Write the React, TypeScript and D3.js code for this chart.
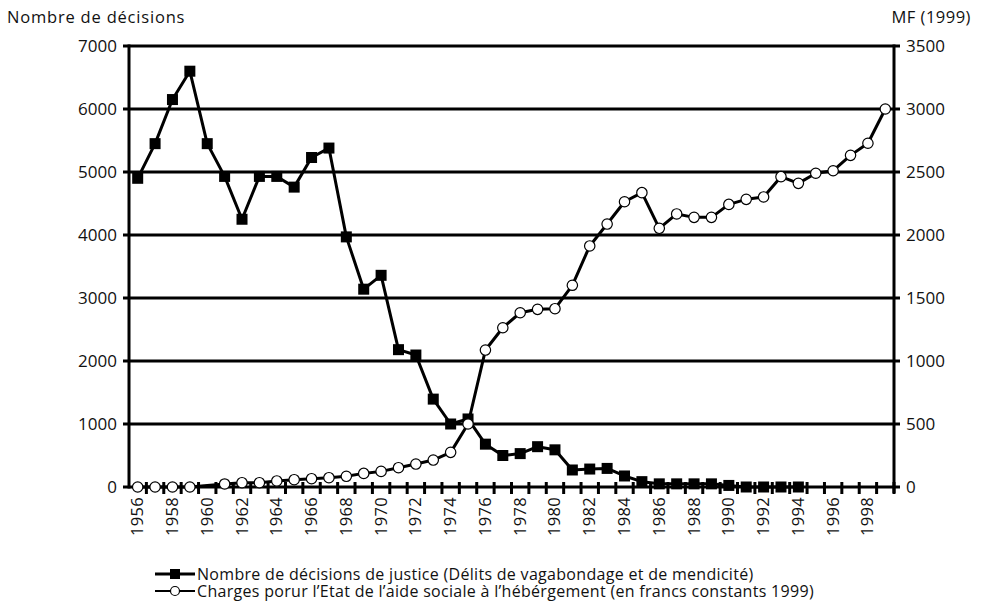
import React from "react";
import * as d3 from "d3";

const years: number[] = d3.range(1956, 2000);
const decisions: (number | null)[] = [
  4900, 5450, 6150, 6600, 5450, 4930, 4250, 4930, 4930, 4760,
  5230, 5380, 3970, 3140, 3360, 2180, 2095, 1395, 1000, 1080,
  680, 500, 530, 640, 590, 270, 285, 295, 175, 85,
  50, 50, 50, 50, 25, 0, 0, 0, 0, null,
  null, null, null, null,
];
const charges: (number | null)[] = [
  0, 0, 0, 0, null, 24, 34, 34, 48, 58,
  66, 74, 85, 108, 124, 153, 182, 214, 275, 500,
  1087, 1264, 1383, 1410, 1415, 1601, 1913, 2087, 2264, 2336,
  2053, 2167, 2140, 2140, 2243, 2283, 2302, 2463, 2410, 2490,
  2510, 2632, 2728, 3000,
];
const leftTicks = [0, 1000, 2000, 3000, 4000, 5000, 6000, 7000];
const rightTicks = [0, 500, 1000, 1500, 2000, 2500, 3000, 3500];
const leftTitle = "Nombre de décisions";
const rightTitle = "MF (1999)";
const legendLabels = [
  "Nombre de décisions de justice (Délits de vagabondage et de mendicité)",
  "Charges porur l’Etat de l’aide sociale à l’hébérgement (en francs constants 1999)",
];

const FONT = "'Open Sans', Lato, sans-serif";

export default function App() {
  const W = 982, H = 609;
  const left = 129, right = 894, top = 46, bottom = 487;
  const x = d3.scaleBand<number>().domain(years).range([left, right]).padding(0);
  const bw = x.bandwidth();
  const cx = (yr: number) => (x(yr) as number) + bw / 2;
  const yL = d3.scaleLinear().domain([0, 7000]).range([bottom, top]);
  const yR = d3.scaleLinear().domain([0, 3500]).range([bottom, top]);

  const decPts = years.map((yr, i) => ({ yr, v: decisions[i] })).filter((d) => d.v !== null) as { yr: number; v: number }[];
  const chPts = years.map((yr, i) => ({ yr, v: charges[i] })).filter((d) => d.v !== null) as { yr: number; v: number }[];

  const lineL = d3.line<{ yr: number; v: number }>().x((d) => cx(d.yr)).y((d) => yL(d.v));
  const lineR = d3.line<{ yr: number; v: number }>().x((d) => cx(d.yr)).y((d) => yR(d.v));

  const sq = 11;
  const boundaries = d3.range(1, years.length + 1).map((i) => left + i * bw);

  return (
    <svg width={W} height={H} style={{ position: "absolute", left: 0, top: 0, background: "#fff" }} fontFamily={FONT}>
      <rect x={0} y={0} width={W} height={H} fill="#fff" />
      {/* titles */}
      <text x={7} y={23} fontSize={16.5} letterSpacing={0.8} fill="#111">{leftTitle}</text>
      <text x={971} y={23} fontSize={16.5} letterSpacing={0.5} fill="#111" textAnchor="end">{rightTitle}</text>

      {/* gridlines */}
      {leftTicks.map((t) => (
        <line key={"g" + t} x1={left} x2={right} y1={yL(t)} y2={yL(t)} stroke="#000" strokeWidth={3} />
      ))}
      {/* axes */}
      <line x1={left} x2={left} y1={top - 1.5} y2={bottom + 1.5} stroke="#000" strokeWidth={3} />
      <line x1={right} x2={right} y1={top - 1.5} y2={bottom + 6} stroke="#000" strokeWidth={3} />
      {leftTicks.map((t) => (
        <g key={"l" + t}>
          <line x1={left - 6} x2={left} y1={yL(t)} y2={yL(t)} stroke="#000" strokeWidth={3} />
          <text x={117} y={yL(t)} dy="0.35em" fontSize={17} textAnchor="end" fill="#111">{t}</text>
        </g>
      ))}
      {rightTicks.map((t) => (
        <g key={"r" + t}>
          <line x1={right} x2={right + 6} y1={yR(t)} y2={yR(t)} stroke="#000" strokeWidth={3} />
          <text x={906} y={yR(t)} dy="0.35em" fontSize={17} textAnchor="start" fill="#111">{t}</text>
        </g>
      ))}
      {/* x ticks */}
      {boundaries.map((b, i) => (
        <line key={"xt" + i} x1={b} x2={b} y1={bottom - 5} y2={bottom + 7} stroke="#000" strokeWidth={3} />
      ))}
      {years.filter((yr) => (yr - 1956) % 2 === 0).map((yr) => (
        <text key={"xl" + yr} transform={`translate(${cx(yr) + 5.5},${497}) rotate(-90)`} fontSize={16.5} letterSpacing={0.3} textAnchor="end" fill="#111">{yr}</text>
      ))}

      {/* decisions series */}
      <path d={lineL(decPts) || ""} fill="none" stroke="#000" strokeWidth={3} strokeLinejoin="round" />
      {decPts.map((d) => (
        <rect key={"d" + d.yr} x={cx(d.yr) - sq / 2} y={yL(d.v) - sq / 2} width={sq} height={sq} fill="#000" />
      ))}
      {/* charges series */}
      <path d={lineR(chPts) || ""} fill="none" stroke="#000" strokeWidth={3} strokeLinejoin="round" />
      {chPts.map((d) => (
        <circle key={"c" + d.yr} cx={cx(d.yr)} cy={yR(d.v)} r={5.2} fill="#fff" stroke="#000" strokeWidth={1.2} />
      ))}

      {/* legend */}
      <g>
        <line x1={155} x2={195} y1={574} y2={574} stroke="#000" strokeWidth={3} />
        <rect x={175 - 5} y={574 - 5} width={10} height={10} fill="#000" />
        <text x={197} y={574} dy="0.35em" fontSize={16} letterSpacing={0.3} fill="#111">{legendLabels[0]}</text>
        <line x1={155} x2={195} y1={591} y2={591} stroke="#000" strokeWidth={2} />
        <circle cx={175} cy={591} r={4.5} fill="#fff" stroke="#000" strokeWidth={1.2} />
        <text x={197} y={591} dy="0.35em" fontSize={16} letterSpacing={0.3} fill="#111">{legendLabels[1]}</text>
      </g>
    </svg>
  );
}
